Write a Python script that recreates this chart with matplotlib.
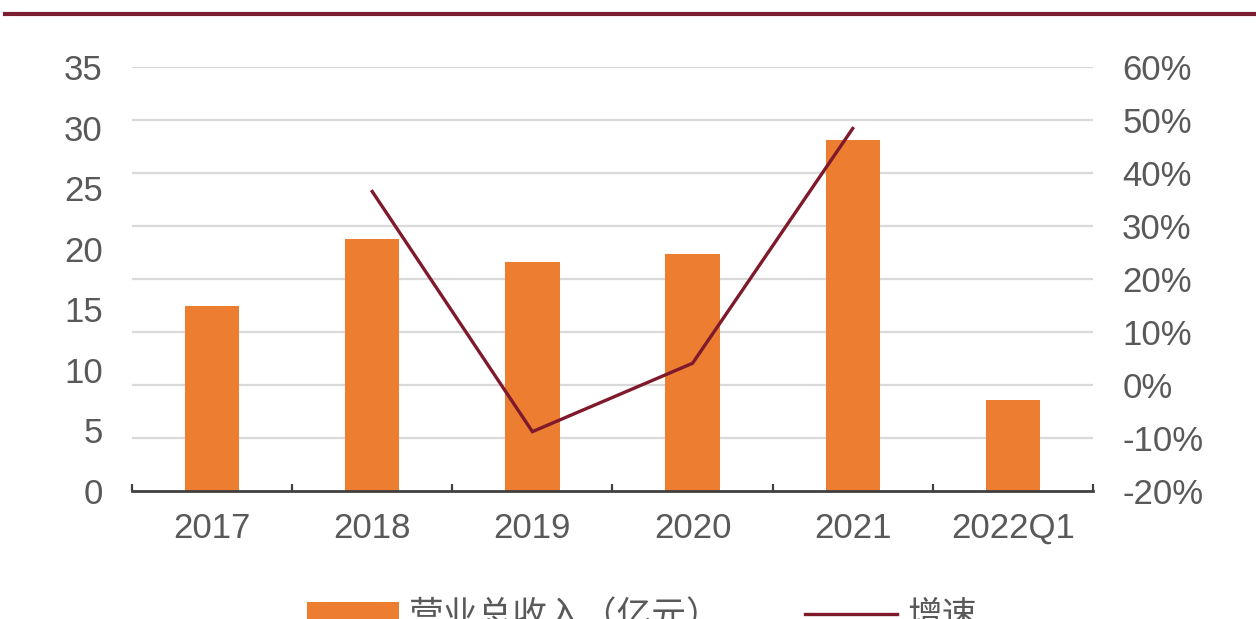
import matplotlib
matplotlib.use("Agg")
import matplotlib.pyplot as plt
from matplotlib.lines import Line2D
from matplotlib.ticker import FixedLocator, FuncFormatter
import numpy as np

plt.rcParams['font.family'] = ['Liberation Sans', 'Noto Sans CJK SC']

# Data
categories = ['2017', '2018', '2019', '2020', '2021', '2022Q1']
revenue = [15.3, 20.8, 18.9, 19.6, 29.0, 7.5]          # 营业总收入（亿元）
growth_years = ['2018', '2019', '2020', '2021']
growth = [0.365, -0.088, 0.041, 0.484]                  # 增速

left_ticks = [0, 5, 10, 15, 20, 25, 30, 35]
right_ticks = [-0.2, -0.1, 0.0, 0.1, 0.2, 0.3, 0.4, 0.5, 0.6]

bar_color = '#ED7D31'
line_color = '#7E1A2C'
grid_color = '#D9D9D9'
text_color = '#595959'
fs = 25

fig = plt.figure(figsize=(12.56, 6.19), dpi=100)
ax = fig.add_axes([0.1051, 0.2068, 0.7651, 0.685])
ax2 = ax.twinx()

x = np.arange(len(categories))
ax.bar(x, revenue, width=0.34, color=bar_color, zorder=3,
       label='营业总收入（亿元）')
gx = [categories.index(c) for c in growth_years]
ln, = ax2.plot(gx, growth, color=line_color, lw=2.4, label='增速',
               solid_joinstyle='miter')

ax.set_xlim(-0.5, len(categories) - 0.5)
ax.set_ylim(0, 35)
ax2.set_ylim(-0.2, 0.6)

# Left axis labels
ax.set_yticks(left_ticks)
ax.set_yticklabels([str(v) for v in left_ticks])
ax.tick_params(axis='y', which='major', length=0, pad=21,
               labelsize=fs, labelcolor=text_color)

# Gridlines follow the percentage scale, drawn behind the bars
ymin, ymax = ax.get_ylim()
grid_pos = [ymin + (t + 0.2) / 0.8 * (ymax - ymin) for t in right_ticks]
ax.yaxis.remove_overlapping_locs = False
ax.yaxis.set_minor_locator(FixedLocator(grid_pos[1:]))
ax.tick_params(axis='y', which='minor', length=0)
ax.grid(axis='y', which='minor', color=grid_color, lw=1.6, zorder=0)
ax.grid(axis='y', which='major', visible=False)

# Right axis labels
ax2.set_yticks(right_ticks)
ax2.yaxis.set_major_formatter(FuncFormatter(lambda v, p: f'{v * 100:.0f}%'))
ax2.tick_params(axis='y', length=0, pad=21, labelsize=fs,
                labelcolor=text_color)

# Category axis: labels centred, ticks at boundaries pointing up
ax.set_xticks(x)
ax.set_xticklabels(categories)
ax.tick_params(axis='x', which='major', length=0, pad=15,
               labelsize=fs, labelcolor=text_color)
ax.xaxis.set_minor_locator(FixedLocator(np.arange(-0.5, len(categories), 1.0)))
ax.tick_params(axis='x', which='minor', direction='in', length=5,
               width=1.6, color='#404040')

for a in (ax, ax2):
    for side in ('top', 'left', 'right'):
        a.spines[side].set_visible(False)
ax2.spines['bottom'].set_visible(False)
ax.spines['bottom'].set_color('#404040')
ax.spines['bottom'].set_linewidth(2.0)
ax.spines['bottom'].set_zorder(4)

# Header rule across the top
fig.add_artist(Line2D([0.004, 1.0], [0.977, 0.977], transform=fig.transFigure,
                      color='#7A1E30', lw=3))

# Legend at the bottom
handles = [ax.containers[0].patches[0], ln]
fig.legend(handles, ['营业总收入（亿元）', '增速'], loc='center',
           bbox_to_anchor=(0.511, 0.004), ncol=2, frameon=False,
           fontsize=fs, handlelength=2.65, handletextpad=0.3,
           columnspacing=2.4, labelcolor=text_color)

fig.savefig('out.png', dpi=100)
